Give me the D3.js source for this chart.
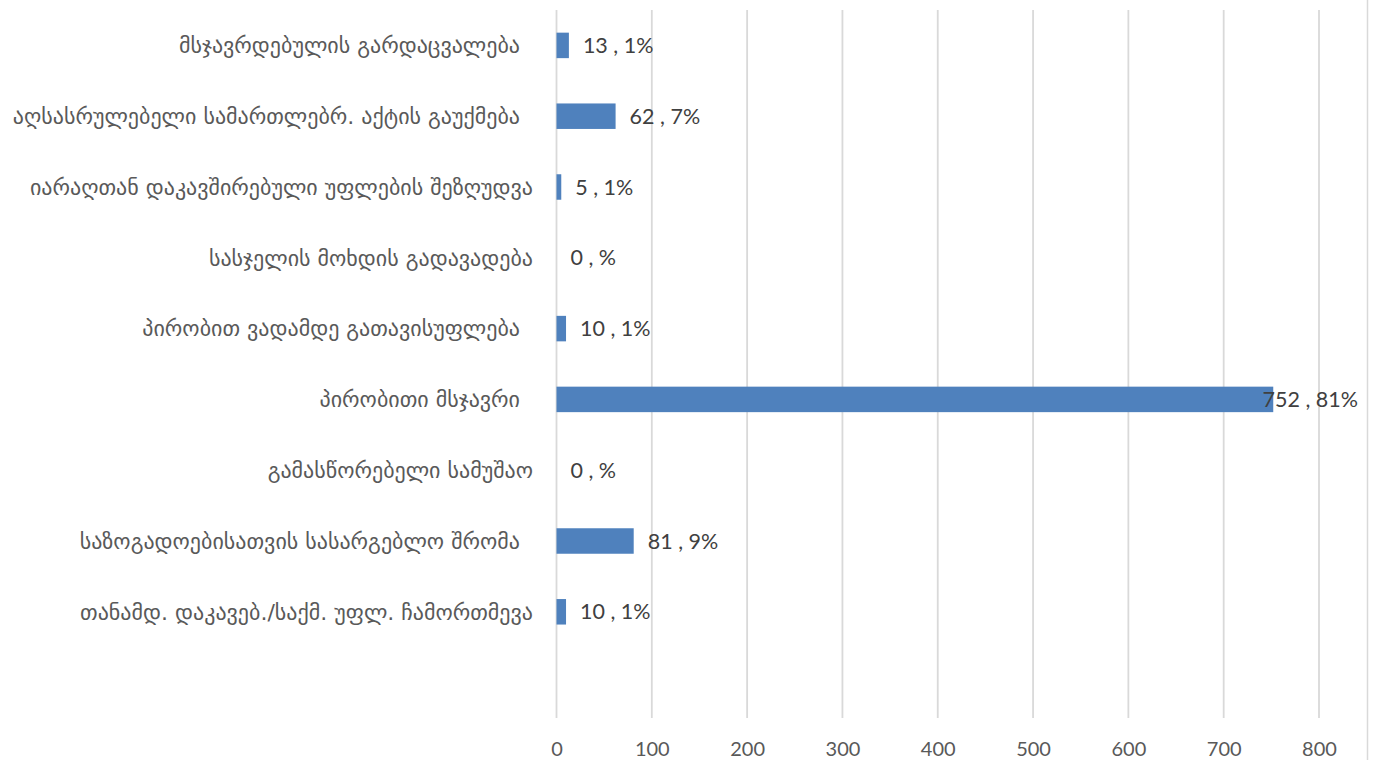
<!DOCTYPE html>
<html>
<head>
<meta charset="utf-8">
<script src="https://cdn.jsdelivr.net/npm/d3@7"></script>
<style>
  html, body { margin: 0; padding: 0; background: #fff; }
  svg { display: block; }
</style>
</head>
<body>
<svg id="chart" width="1375" height="760"></svg>
<script>
const categories = [
  "მსჯავრდებულის გარდაცვალება ",
  "აღსასრულებელი სამართლებრ. აქტის გაუქმება ",
  "იარაღთან დაკავშირებული უფლების შეზღუდვა",
  "სასჯელის მოხდის გადავადება",
  "პირობით ვადამდე გათავისუფლება ",
  "პირობითი მსჯავრი ",
  "გამასწორებელი სამუშაო",
  "საზოგადოებისათვის სასარგებლო შრომა ",
  "თანამდ. დაკავებ./საქმ. უფლ. ჩამორთმევა",
  ""
];
const values = [13, 62, 5, 0, 10, 752, 0, 81, 10, null];
const percents = ["1%", "7%", "1%", "%", "1%", "81%", "%", "9%", "1%", null];
const xTicks = [0, 100, 200, 300, 400, 500, 600, 700, 800];

const svg = d3.select("#chart");
const W = 1375, H = 760;
const plot = { left: 556.5, right: 1319, top: 10, bottom: 718 };

const x = d3.scaleLinear().domain([0, 800]).range([plot.left, plot.right]);
const y = d3.scaleBand().domain(d3.range(categories.length)).range([plot.top, plot.bottom]).paddingInner(0.64).paddingOuter(0.32);

// chart right border
svg.append("line")
  .attr("x1", 1367.5).attr("x2", 1367.5).attr("y1", 0).attr("y2", H)
  .attr("stroke", "#d9d9d9").attr("stroke-width", 1.5);

// gridlines
svg.append("g").selectAll("line").data(xTicks).join("line")
  .attr("x1", d => x(d)).attr("x2", d => x(d))
  .attr("y1", plot.top).attr("y2", plot.bottom)
  .attr("stroke", "#d9d9d9").attr("stroke-width", 1.8);

// x axis tick labels
const xAxis = d3.axisBottom(x).tickValues(xTicks).tickSize(0).tickPadding(0);
const gx = svg.append("g").attr("transform", `translate(0, ${plot.bottom})`).call(xAxis);
gx.select(".domain").remove();
gx.selectAll("text")
  .attr("dy", 0).attr("y", 38)
  .attr("fill", "#595959")
  .style("font-family", "Lato, 'Liberation Sans', sans-serif")
  .style("font-size", "20px");

// bars
const idx = d3.range(categories.length).filter(i => values[i] !== null);
svg.append("g").selectAll("rect").data(idx).join("rect")
  .attr("x", x(0))
  .attr("y", i => y(i))
  .attr("width", i => x(values[i]) - x(0))
  .attr("height", y.bandwidth())
  .attr("fill", "#4f81bd");

// category labels
svg.append("g").selectAll("text").data(d3.range(categories.length)).join("text")
  .attr("x", i => categories[i].endsWith(" ") ? 527 : 533)
  .attr("y", i => y(i) + y.bandwidth() / 2)
  .attr("dy", "0.35em")
  .attr("text-anchor", "end")
  .style("white-space", "pre")
  .attr("fill", "#595959")
  .style("font-family", "'DejaVu Sans', 'Noto Sans', sans-serif")
  .style("font-size", "22px")
  .text(i => categories[i]);

// data labels
const labels = svg.append("g").selectAll("text").data(idx).join("text")
  .attr("y", i => y(i) + y.bandwidth() / 2)
  .attr("dy", "0.35em")
  .attr("fill", "#404040")
  .style("font-family", "Lato, 'Liberation Sans', sans-serif")
  .style("font-size", "21.5px")
  .text(i => `${values[i]} , ${percents[i]}`);
labels.each(function(i) {
  const w = this.getComputedTextLength();
  let lx = x(values[i]) + 14;
  if (lx + w > 1358) lx = 1358 - w;
  d3.select(this).attr("x", lx);
});
</script>
</body>
</html>
